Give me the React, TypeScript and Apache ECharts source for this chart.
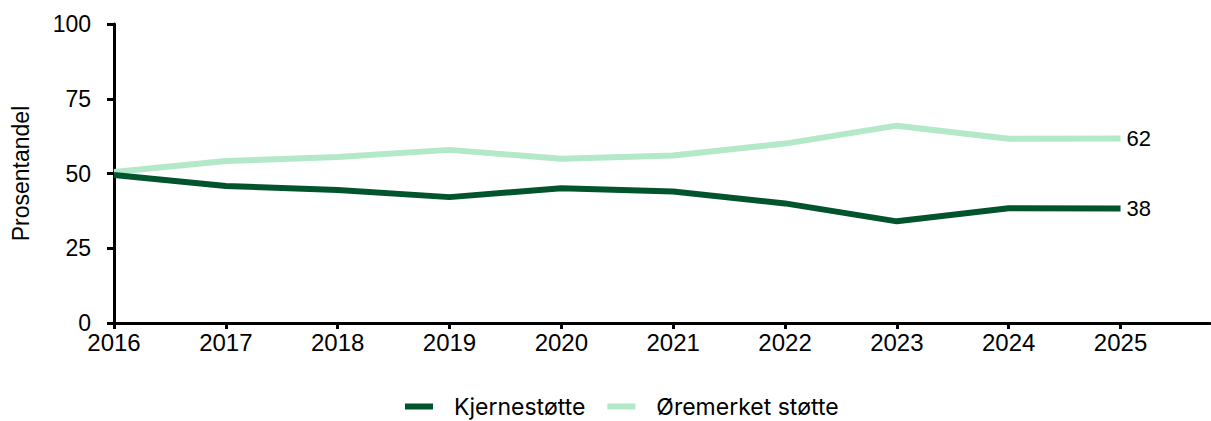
import React, { useEffect, useRef } from "react";
import * as echarts from "echarts";

const years = [2016, 2017, 2018, 2019, 2020, 2021, 2022, 2023, 2024, 2025];
const kjernestotte = [49.5, 45.8, 44.5, 42.1, 45.1, 44.0, 40.0, 34.0, 38.4, 38.3];
const oremerket = [50.5, 54.2, 55.5, 57.9, 54.9, 56.0, 60.0, 66.0, 61.6, 61.7];
const yTicks = [0, 25, 50, 75, 100];

const DARK = "#02542d";
const LIGHT = "#b3e8c8";
const AXIS_FONT = "Liberation Sans";

export default function App() {
  const ref = useRef<HTMLDivElement>(null);
  useEffect(() => {
    if (!ref.current) return;
    const chart = echarts.init(ref.current, null, { renderer: "svg" });
    const mk = (vals: number[]) => years.map((y, i) => [y, vals[i]]);
    const endLabel = {
      show: true,
      distance: 6,
      fontFamily: AXIS_FONT,
      fontSize: 22,
      color: "#000",
      formatter: (p: any) => String(Math.round(p.value[1])),
    };
    chart.setOption({
      animation: false,
      grid: { left: 114, right: 1, top: 24, bottom: 98, containLabel: false },
      xAxis: {
        type: "value",
        min: 2016,
        max: 2025.8,
        interval: 1,
        splitLine: { show: false },
        axisLine: { show: true, lineStyle: { color: "#000", width: 3 } },
        axisTick: { show: true, length: 6, lineStyle: { color: "#000", width: 3 }, customValues: years },
        axisLabel: {
          customValues: years,
          color: "#000",
          fontFamily: AXIS_FONT,
          fontSize: 24,
          margin: 7,
          formatter: (v: number) => String(v),
        },
      },
      yAxis: {
        type: "value",
        min: 0,
        max: 100,
        interval: 25,
        name: "Prosentandel",
        nameLocation: "middle",
        nameGap: 82,
        nameTextStyle: { color: "#000", fontFamily: AXIS_FONT, fontSize: 23 },
        splitLine: { show: false },
        axisLine: { show: true, lineStyle: { color: "#000", width: 3 } },
        axisTick: { show: true, length: 7, lineStyle: { color: "#000", width: 3 }, customValues: yTicks },
        axisLabel: {
          customValues: yTicks,
          color: "#000",
          fontFamily: AXIS_FONT,
          fontSize: 23,
          margin: 23,
        },
      },
      legend: {
        left: 400,
        top: 390,
        icon: "rect",
        itemWidth: 28,
        itemHeight: 6,
        itemGap: 22,
        textStyle: {
          color: "#000",
          fontFamily: "Inter",
          fontSize: 23,
          lineHeight: 22,
          padding: [0, 0, 0, 16],
        },
        data: ["Kjernestøtte", "Øremerket støtte"],
      },
      series: [
        {
          name: "Kjernestøtte",
          type: "line",
          data: mk(kjernestotte),
          showSymbol: false,
          symbol: "none",
          lineStyle: { color: DARK, width: 6, join: "round" },
          itemStyle: { color: DARK },
          endLabel,
        },
        {
          name: "Øremerket støtte",
          type: "line",
          data: mk(oremerket),
          showSymbol: false,
          symbol: "none",
          lineStyle: { color: LIGHT, width: 6, join: "round" },
          itemStyle: { color: LIGHT },
          endLabel,
          z: 1,
        },
      ],
    });
    return () => chart.dispose();
  }, []);
  return (
    <div
      ref={ref}
      style={{ position: "fixed", left: 0, top: 0, width: 1211, height: 421, background: "#fff" }}
    />
  );
}
